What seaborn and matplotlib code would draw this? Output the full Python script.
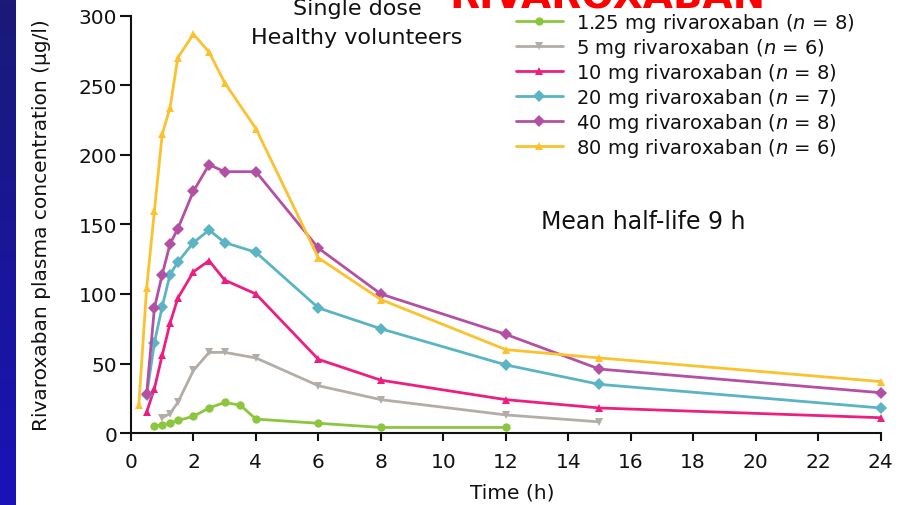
import numpy as np
import pandas as pd
import matplotlib.pyplot as plt
import seaborn as sns

# mean concentration-time data
t_125 = [0.75, 1, 1.25, 1.5, 2, 2.5, 3, 3.5, 4, 6, 8, 12]
c_125 = [5, 6, 7, 9, 12, 18, 22, 20, 10, 7, 4, 4]

t_5 = [1, 1.25, 1.5, 2, 2.5, 3, 4, 6, 8, 12, 15]
c_5 = [11, 14, 22, 45, 58, 58, 54, 34, 24, 13, 8]

t_10 = [0.5, 0.75, 1, 1.25, 1.5, 2, 2.5, 3, 4, 6, 8, 12, 15, 24]
c_10 = [15, 32, 56, 79, 97, 116, 124, 110, 100, 53, 38, 24, 18, 11]

t_20 = [0.5, 0.75, 1, 1.25, 1.5, 2, 2.5, 3, 4, 6, 8, 12, 15, 24]
c_20 = [27, 65, 91, 114, 123, 137, 146, 137, 130, 90, 75, 49, 35, 18]

t_40 = [0.5, 0.75, 1, 1.25, 1.5, 2, 2.5, 3, 4, 6, 8, 12, 15, 24]
c_40 = [28, 90, 114, 136, 147, 174, 193, 188, 188, 133, 100, 71, 46, 29]

t_80 = [0.25, 0.5, 0.75, 1, 1.25, 1.5, 2, 2.5, 3, 4, 6, 8, 12, 15, 24]
c_80 = [20, 104, 160, 215, 234, 270, 287, 274, 252, 219, 126, 96, 60, 54, 37]

doses = ['1.25', '5', '10', '20', '40', '80']
n_subj = [8, 6, 8, 7, 8, 6]
times = [t_125, t_5, t_10, t_20, t_40, t_80]
concs = [c_125, c_5, c_10, c_20, c_40, c_80]

colors = ['#8cc63e', '#b3ada7', '#ec1f80', '#5ab4c4', '#b450a4', '#fbc22e']
marks = ['o', 'v', '^', 'D', 'D', '^']

rows = []
for d, ts, cs in zip(doses, times, concs):
    for t, c in zip(ts, cs):
        rows.append({'dose': d, 'Time': t, 'Conc': c})
df = pd.DataFrame(rows)

sns.set_style('ticks')
plt.rcParams['font.family'] = ['DejaVu Sans']
plt.rcParams['mathtext.fontset'] = 'dejavusans'
plt.rcParams['text.color'] = '#111111'
plt.rcParams['axes.labelcolor'] = '#111111'

fig = plt.figure(figsize=(9.13, 5.06), dpi=100)
ax = fig.add_axes([131 / 913, 1 - 434 / 506, 762 / 913, 417 / 506])

# blue strip on the left edge
strip = fig.add_axes([0, 0, 0.0165, 1])
grad = np.linspace(0, 1, 100).reshape(-1, 1)
strip.imshow(grad, aspect='auto', cmap=plt.matplotlib.colors.LinearSegmentedColormap.from_list(
    'b', ['#1b12b8', '#1a1a78']), origin='lower')
strip.axis('off')

sns.lineplot(data=df, x='Time', y='Conc', hue='dose', style='dose',
             hue_order=doses, style_order=doses, palette=colors,
             markers=dict(zip(doses, marks)), dashes=False, sort=False,
             linewidth=2, markersize=6, markeredgewidth=0, ax=ax)

ax.set_xlim(0, 24.4)
ax.set_ylim(0, 300)
ax.set_xticks(range(0, 25, 2))
ax.set_yticks(range(0, 301, 50))
ax.tick_params(axis='y', labelsize=14.5, length=8, width=1.5, pad=2, colors='#111111')
ax.tick_params(axis='x', labelsize=14.5, length=6, width=1.5, pad=8, colors='#111111')
ax.spines['left'].set_bounds(0, 300)
ax.spines['bottom'].set_bounds(0, 24)
for s in ['left', 'bottom']:
    ax.spines[s].set_linewidth(1.5)
    ax.spines[s].set_color('#111111')
sns.despine(ax=ax)

ax.set_xlabel('Time (h)', fontsize=14.5, labelpad=8)
ax.set_ylabel('Rivaroxaban plasma concentration (\u03bcg/l)', fontsize=14.5, labelpad=20)

handles, _ = ax.get_legend_handles_labels()
ax.get_legend().remove()
labels = [f'{d} mg rivaroxaban ($n$ = {n})' for d, n in zip(doses, n_subj)]
fig.legend(handles, labels, loc='upper left', bbox_to_anchor=(0.565, 0.976),
           frameon=False, fontsize=14, handlelength=2.4, labelspacing=0.1,
           handletextpad=0.7, borderaxespad=0, borderpad=0)

fig.text(0.391, 0.982, 'Single dose', ha='center', va='center', fontsize=16)
fig.text(0.391, 0.925, 'Healthy volunteers', ha='center', va='center', fontsize=16)
fig.text(0.705, 0.561, 'Mean half-life 9 h', ha='center', va='center', fontsize=17)
fig.text(0.665, 0.984, 'RIVAROXABAN', ha='center', va='baseline',
         fontsize=28, fontweight='bold', color='#ff0000')

fig.savefig('out.png', dpi=100)
